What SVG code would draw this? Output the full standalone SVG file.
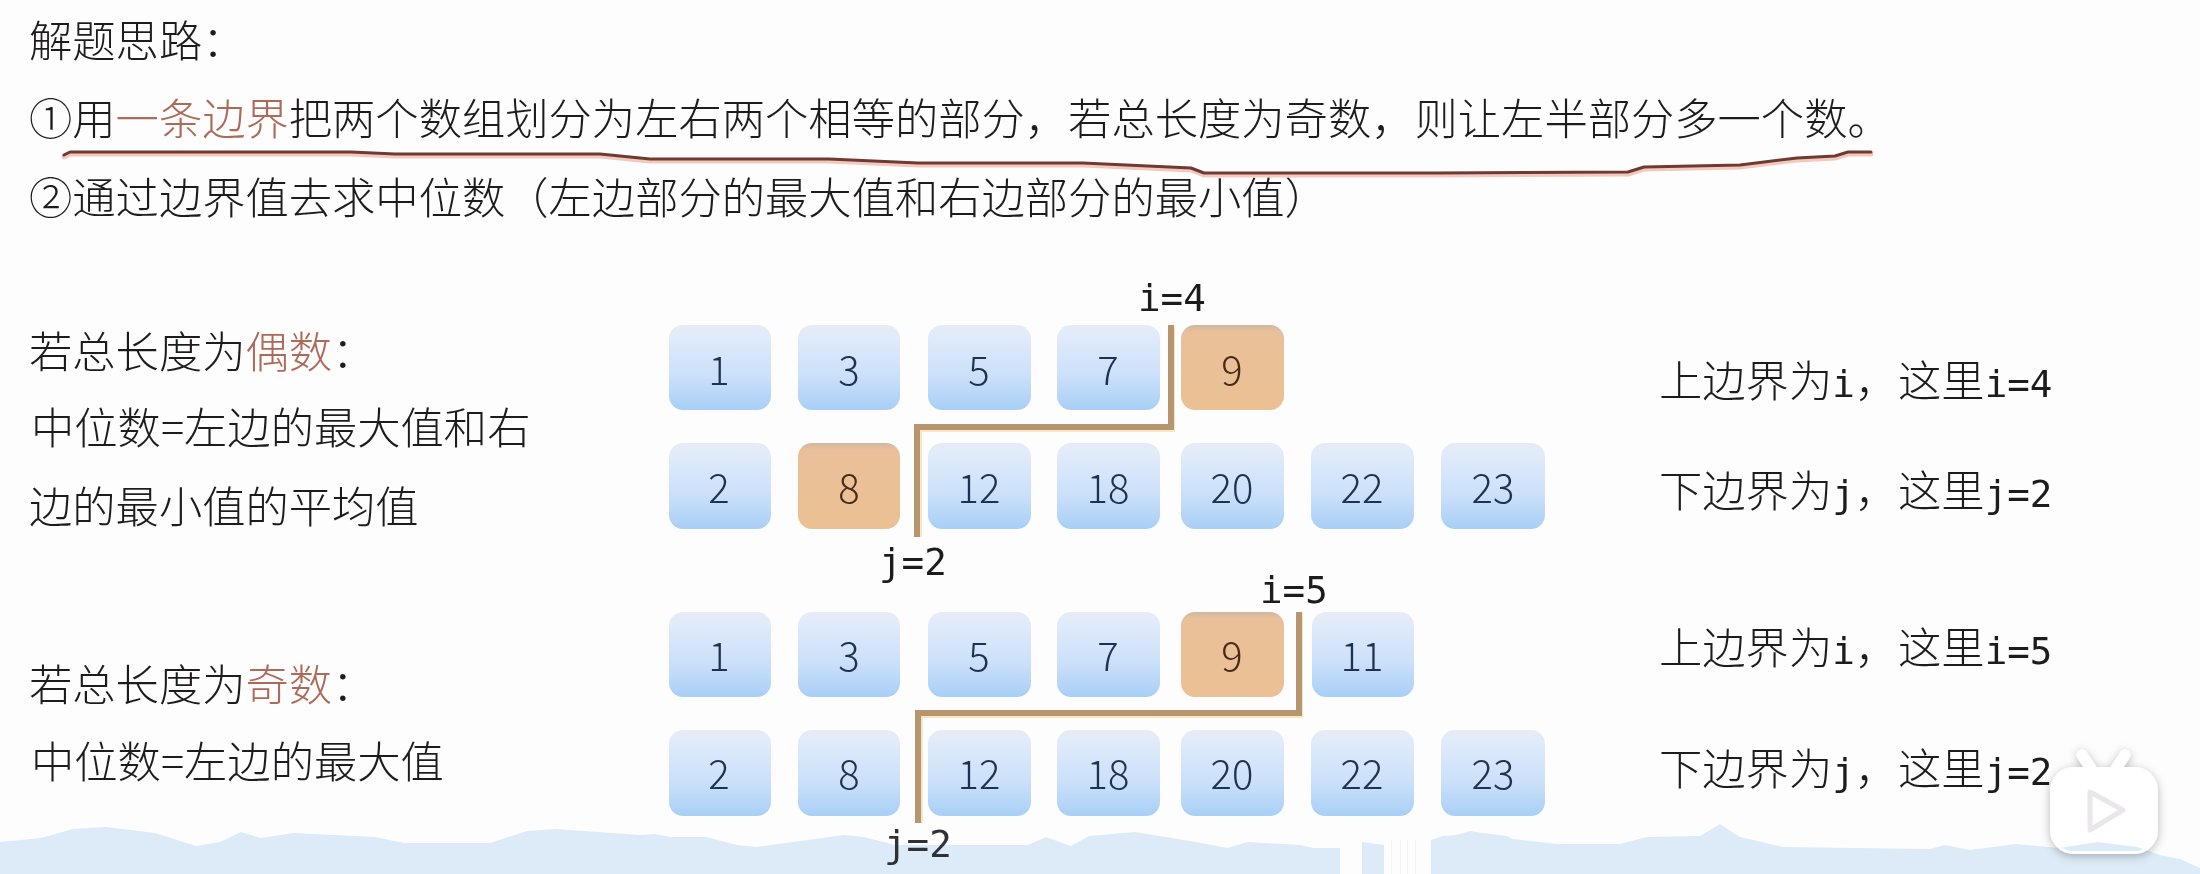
<svg xmlns="http://www.w3.org/2000/svg" xmlns:xlink="http://www.w3.org/1999/xlink" width="2200" height="874" viewBox="0 0 2200 874">
<style>
text{font-family:"Noto Sans CJK SC","Noto Sans",sans-serif}
.t{font-size:43.3px;fill:#1d1c1e;font-weight:300}
.r{fill:#ad6a58}
.m{font-family:"DejaVu Sans Mono","Liberation Mono",monospace;font-size:37.5px;fill:#1d1c1e}
.n{font-size:40px;fill:#1f3350;text-anchor:middle;font-weight:300}
.no{fill:#4a2a18}
.b{fill:url(#blue)}
.o{fill:url(#orange)}
.c{fill:none;stroke:#b7966f;stroke-width:6}
.cg{fill:none;stroke:#f8e6c4;stroke-width:6}
</style>
<defs>
<linearGradient id="blue" x1="0" y1="0" x2="0" y2="1"><stop offset="0" stop-color="#e8ebf4"/><stop offset=".12" stop-color="#e1ebfa"/><stop offset=".6" stop-color="#cbe0fa"/><stop offset="1" stop-color="#a8cff6"/></linearGradient>
<linearGradient id="orange" x1="0" y1="0" x2="0" y2="1"><stop offset="0" stop-color="#cfb7a2"/><stop offset=".08" stop-color="#e9c09a"/><stop offset="1" stop-color="#ebc093"/></linearGradient>
<filter id="soft" x="-5%" y="-5%" width="110%" height="110%"><feGaussianBlur stdDeviation=".45"/></filter>
<filter id="shadow" x="-20%" y="-20%" width="140%" height="140%"><feDropShadow dx="0" dy="2" stdDeviation="5" flood-color="#000" flood-opacity=".28"/></filter>
<clipPath id="iconInner"><rect x="2053" y="770" width="102" height="81" rx="20"/></clipPath>
<polygon id="wave" points="0,842 41,838 73,829 106,827 155,833 196,846 220,842 241,832 261,838 294,833 375,837 404,843 490,843 527,831 555,829 640,835 655,834 670,837 706,837 737,845 757,847 793,842 844,835 864,837 895,845 967,845 1028,845 1046,837 1071,846 1089,836 1135,832 1196,842 1227,848 1247,842 1300,845 1313,848 1340,848 1340,874 0,874"/>
<polygon id="wave2" points="1431,840 1443,836 1457,835 1470,831 1483,833 1507,836 1513,839 1557,844 1620,844 1647,837 1700,836 1720,824 1740,837 1783,847 1930,849 1945,845 1970,850 2016,844 2060,848 2097,842 2137,847 2160,855 2180,859 2200,868 2200,874 1431,874"/>
</defs>
<rect width="2200" height="874" fill="#fefdfe"/>
<g id="background-wave" fill="#dcebf7">
<use xlink:href="#wave"/>
<polygon points="1362,842 1384,845 1384,874 1362,874"/>
<use xlink:href="#wave2"/>
<g fill="#eef5fb"><rect x="1391" y="840" width="1" height="34"/><rect x="1400" y="840" width="1" height="34"/><rect x="1407" y="840" width="1" height="34"/><rect x="1415" y="840" width="1" height="34"/></g>
</g>
<g id="heading" filter="url(#soft)">
<text class="t" x="29" y="57">解题思路：</text>
<text class="t" x="29" y="135">①用<tspan class="r">一条边界</tspan>把两个数组划分为左右两个相等的部分，若总长度为奇数，则让左半部分多一个数。</text>
<text class="t" x="29" y="214">②通过边界值去求中位数（左边部分的最大值和右边部分的最小值）</text>
</g>
<g id="underline" fill="none" stroke-linejoin="round" stroke-linecap="round">
<path d="M64,157 L70,154 L351,154 L395,156 L600,156 L650,161 L829,161 L918,165 L1083,165 L1191,170 L1204,175 L1437,175 L1628,174 L1644,169 L1740,167 L1797,160 L1835,158 L1848,154 L1871,154" stroke="#f3c9bd" stroke-width="5"/>
<path d="M64,155 L70,152 L351,152 L395,154 L600,154 L650,159 L829,159 L918,163 L1083,163 L1191,168 L1204,173 L1437,173 L1628,172 L1644,167 L1740,165 L1797,158 L1835,156 L1848,152 L1871,152" stroke="#6e3a32" stroke-width="3"/>
</g>
<g id="left-text" filter="url(#soft)">
<text class="t" x="29" y="368">若总长度为<tspan class="r">偶数</tspan>：</text>
<text class="t" x="31" y="444">中位数=左边的最大值和右</text>
<text class="t" x="29" y="523">边的最小值的平均值</text>
<text class="t" x="29" y="701">若总长度为<tspan class="r">奇数</tspan>：</text>
<text class="t" x="31" y="778">中位数=左边的最大值</text>
</g>
<g id="nodes-row1" filter="url(#soft)">
<g id="a1"><rect class="b" x="669" y="325" width="102" height="85" rx="14"/><text class="n" x="719" y="385">1</text></g>
<g id="a2"><rect class="b" x="798" y="325" width="102" height="85" rx="14"/><text class="n" x="849" y="385">3</text></g>
<g id="a3"><rect class="b" x="928" y="325" width="103" height="85" rx="14"/><text class="n" x="979" y="385">5</text></g>
<g id="a4"><rect class="b" x="1057" y="325" width="103" height="85" rx="14"/><text class="n" x="1108" y="385">7</text></g>
<g id="a5"><rect class="o" x="1181" y="325" width="103" height="85" rx="14"/><text class="n no" x="1232" y="385">9</text></g>
</g>
<g id="nodes-row2" filter="url(#soft)">
<g id="b1"><rect class="b" x="669" y="443" width="102" height="86" rx="14"/><text class="n" x="719" y="503">2</text></g>
<g id="b2"><rect class="o" x="798" y="443" width="102" height="86" rx="14"/><text class="n no" x="849" y="503">8</text></g>
<g id="b3"><rect class="b" x="928" y="443" width="103" height="86" rx="14"/><text class="n" x="979" y="503">12</text></g>
<g id="b4"><rect class="b" x="1057" y="443" width="103" height="86" rx="14"/><text class="n" x="1108" y="503">18</text></g>
<g id="b5"><rect class="b" x="1181" y="443" width="103" height="86" rx="14"/><text class="n" x="1232" y="503">20</text></g>
<g id="b6"><rect class="b" x="1311" y="443" width="103" height="86" rx="14"/><text class="n" x="1362" y="503">22</text></g>
<g id="b7"><rect class="b" x="1441" y="443" width="104" height="86" rx="14"/><text class="n" x="1493" y="503">23</text></g>
</g>
<g id="nodes-row3" filter="url(#soft)">
<g id="c1"><rect class="b" x="669" y="612" width="102" height="85" rx="14"/><text class="n" x="719" y="671">1</text></g>
<g id="c2"><rect class="b" x="798" y="612" width="102" height="85" rx="14"/><text class="n" x="849" y="671">3</text></g>
<g id="c3"><rect class="b" x="928" y="612" width="103" height="85" rx="14"/><text class="n" x="979" y="671">5</text></g>
<g id="c4"><rect class="b" x="1057" y="612" width="103" height="85" rx="14"/><text class="n" x="1108" y="671">7</text></g>
<g id="c5"><rect class="o" x="1181" y="612" width="103" height="85" rx="14"/><text class="n no" x="1232" y="671">9</text></g>
<g id="c6"><rect class="b" x="1312" y="612" width="102" height="85" rx="14"/><text class="n" x="1362" y="671">11</text></g>
</g>
<g id="nodes-row4" filter="url(#soft)">
<g id="d1"><rect class="b" x="669" y="730" width="102" height="86" rx="14"/><text class="n" x="719" y="789">2</text></g>
<g id="d2"><rect class="b" x="798" y="730" width="102" height="86" rx="14"/><text class="n" x="849" y="789">8</text></g>
<g id="d3"><rect class="b" x="928" y="730" width="103" height="86" rx="14"/><text class="n" x="979" y="789">12</text></g>
<g id="d4"><rect class="b" x="1057" y="730" width="103" height="86" rx="14"/><text class="n" x="1108" y="789">18</text></g>
<g id="d5"><rect class="b" x="1181" y="730" width="103" height="86" rx="14"/><text class="n" x="1232" y="789">20</text></g>
<g id="d6"><rect class="b" x="1311" y="730" width="103" height="86" rx="14"/><text class="n" x="1362" y="789">22</text></g>
<g id="d7"><rect class="b" x="1441" y="730" width="104" height="86" rx="14"/><text class="n" x="1493" y="789">23</text></g>
</g>
<g id="connectors">
<path class="cg" d="M1172,326 V429 H919 V537"/>
<path class="c" d="M1171,325 V427 H917 V537"/>
<path class="cg" d="M1300,613 V715 H920 V823"/>
<path class="c" d="M1299,612 V713 H918 V823"/>
</g>
<g id="boundary-labels" filter="url(#soft)">
<text class="m" x="1138" y="311">i=4</text>
<text class="m" x="879" y="575">j=2</text>
<text class="m" x="1260" y="603">i=5</text>
<text class="m" x="884" y="857" style="fill:#2d3338">j=2</text>
</g>
<g id="right-text" filter="url(#soft)">
<text class="t" x="1659" y="397">上边界为<tspan class="m">i</tspan>，这里<tspan class="m">i=4</tspan></text>
<text class="t" x="1659" y="507">下边界为<tspan class="m">j</tspan>，这里<tspan class="m">j=2</tspan></text>
<text class="t" x="1659" y="664">上边界为<tspan class="m">i</tspan>，这里<tspan class="m">i=5</tspan></text>
<text class="t" x="1659" y="785">下边界为<tspan class="m">j</tspan>，这里<tspan class="m">j=2</tspan></text>
</g>
<g id="watermark">
<g filter="url(#shadow)">
<path d="M2082,755 L2092,770 M2125,755 L2115,770" stroke="#fff" stroke-width="11" stroke-linecap="round"/>
<rect x="2050" y="767" width="108" height="87" rx="24" fill="#fff"/>
</g>
<g clip-path="url(#iconInner)" fill="#dcebf7"><use xlink:href="#wave2"/></g>
<path d="M2090,792 L2123,810 L2090,830 Z" fill="#fff" stroke="#e9e7e9" stroke-width="5" stroke-linejoin="round"/>
</g>
</svg>
